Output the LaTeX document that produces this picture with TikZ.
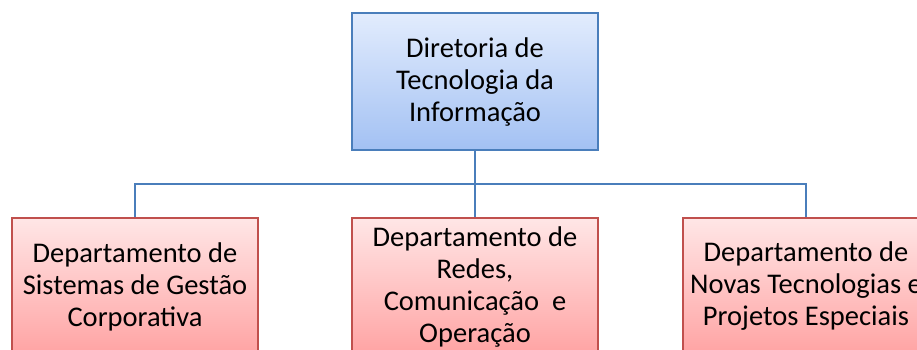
\documentclass[tikz,border=0pt]{standalone}
\usepackage{fontspec}
\setmainfont{Carlito}
\definecolor{lineblue}{HTML}{4A7EBB}
\definecolor{bluetop}{HTML}{E2ECFD}
\definecolor{bluebot}{HTML}{A3C1F3}
\definecolor{redborder}{HTML}{C0504D}
\definecolor{redtop}{HTML}{FFE6E6}
\definecolor{redbot}{HTML}{FFA3A3}
\tikzset{
  orgbox/.style={minimum width=246pt, minimum height=137pt, align=center, inner sep=0pt,
    font=\fontsize{28.5}{32}\selectfont, line width=1.3pt},
  headbox/.style={orgbox, draw=lineblue, top color=bluetop, bottom color=bluebot},
  deptbox/.style={orgbox, draw=redborder, top color=redtop, bottom color=redbot},
  conn/.style={draw=lineblue, line width=2pt}
}
\begin{document}
\begin{tikzpicture}[x=1pt,y=-1pt]
\useasboundingbox (0,0) rectangle (917,349);
\clip (0,0) rectangle (917,349);
\node[headbox] (dir) at (475,81.5) {Diretoria de\\Tecnologia da\\Informação};
\node[deptbox] (sis) at (135,286.5) {Departamento de\\Sistemas de Gestão\\Corporativa};
\node[deptbox] (red) at (475,286.5) {Departamento de\\Redes,\\Comunicação\ \ e\\Operação};
\node[deptbox] (nov) at (806,286.5) {Departamento de\\Novas Tecnologias e\\Projetos Especiais};
\coordinate (bus) at (475,184);
\draw[conn] (dir.south) -- (bus) -- (red.north);
\draw[conn] (sis.north) |- (bus) -| (nov.north);
\end{tikzpicture}
\end{document}
